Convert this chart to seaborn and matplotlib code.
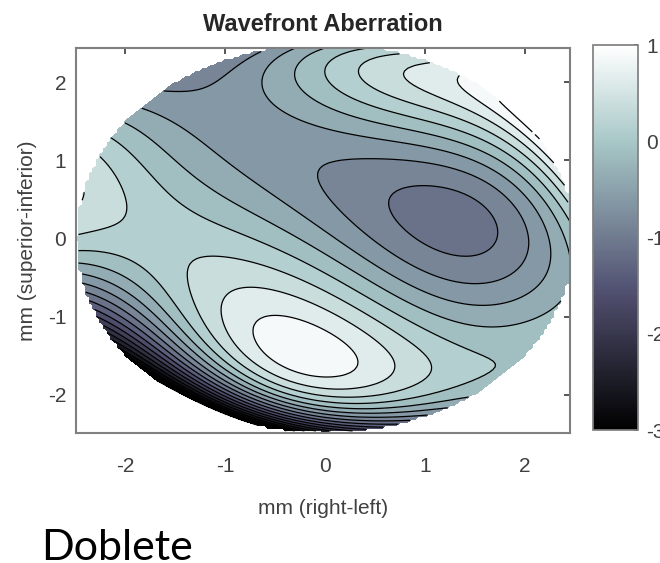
from math import factorial
import numpy as np
import matplotlib
matplotlib.use("Agg")
import matplotlib.pyplot as plt
import seaborn as sns

# pupil radius (mm)
pupil_radius = 2.5

# Zernike terms (radial order n, azimuthal m) and their coefficients (microns)
zern_n = [0, 1, 1, 2, 2, 2, 3, 3, 3, 3, 4, 4, 4, 4, 4,
          5, 5, 5, 5, 5, 5, 6, 6, 6, 6, 6, 6, 6]
zern_m = [0, -1, 1, -2, 0, 2, -3, -1, 1, 3, -4, -2, 0, 2, 4,
          -5, -3, -1, 1, 3, 5, -6, -4, -2, 0, 2, 4, 6]
zern_c = [-0.286, 0.085, 0.040, -0.163, -0.113, 0.027, 0.262, 1.153, 0.844, -0.874,
          -0.063, -0.311, -0.310, 0.682, 0.120, 0.065, -0.050, 0.054, -0.033, -0.024,
          -0.088, -0.004, 0.150, 0.002, -0.056, 0.105, -0.085, -0.013]

# colour scale and contour levels
cbar_ticks = [-3, -2, -1, 0, 1]
contour_levels = np.arange(-3.5, 1.26, 0.25)


def radial(n, m, rho):
    m = abs(m)
    out = np.zeros_like(rho)
    for k in range((n - m) // 2 + 1):
        c = (-1) ** k * factorial(n - k) / (
            factorial(k) * factorial((n + m) // 2 - k) * factorial((n - m) // 2 - k))
        out = out + c * rho ** (n - 2 * k)
    return out


def zern(n, m, rho, th):
    if m >= 0:
        return radial(n, m, rho) * np.cos(m * th)
    return radial(n, m, rho) * np.sin(-m * th)


sns.set_theme(style="white")
plt.rcParams['font.family'] = ['Liberation Sans', 'DejaVu Sans']
plt.rcParams['axes.unicode_minus'] = False

grid = np.linspace(-pupil_radius, pupil_radius, 141)
X, Y = np.meshgrid(grid, grid)
rho = np.hypot(X, Y) / pupil_radius
th = np.arctan2(Y, X)
W = sum(c * zern(n, m, rho, th) for n, m, c in zip(zern_n, zern_m, zern_c))
W[rho > 1.0] = np.nan  # outside the pupil

fig = plt.figure(figsize=(6.6, 5.63), dpi=100)
ax = fig.add_axes([0.115, 0.231, 0.749, 0.684])
cax = fig.add_axes([0.898, 0.236, 0.068, 0.684])

cmap = sns.color_palette("bone", as_cmap=True)
ax.contourf(X, Y, W, levels=contour_levels, cmap=cmap, vmin=-3, vmax=1)
ax.contour(X, Y, W, levels=contour_levels, colors='black', linewidths=0.9,
           linestyles='solid')

ax.set_xlim(-2.49, 2.45)
ax.set_ylim(-2.49, 2.44)
ax.set_xticks([-2, -1, 0, 1, 2])
ax.set_yticks([-2, -1, 0, 1, 2])
ax.tick_params(direction='in', length=4, top=True, right=True, labelsize=15,
               colors='#404040')
ax.tick_params(axis='x', pad=17)
ax.tick_params(axis='y', pad=7)
for s in ax.spines.values():
    s.set_color('#808080')
    s.set_linewidth(1.5)
ax.set_title("Wavefront Aberration", fontsize=17, fontweight='bold', pad=12)
ax.set_xlabel("mm (right-left)", fontsize=15, color='#404040', labelpad=17)
ax.set_ylabel("mm (superior-inferior)", fontsize=15, color='#404040', labelpad=8)

sm = plt.cm.ScalarMappable(cmap=cmap, norm=plt.Normalize(-3, 1))
cb = fig.colorbar(sm, cax=cax, ticks=cbar_ticks)
cb.outline.set_edgecolor('#808080')
cb.ax.tick_params(direction='in', length=3, labelsize=15, colors='#404040', pad=6)

fig.text(0.062, 0.006, "Doblete", fontsize=31, family=['Lato', 'DejaVu Sans'], color='black')

fig.savefig("out.png", dpi=100)
